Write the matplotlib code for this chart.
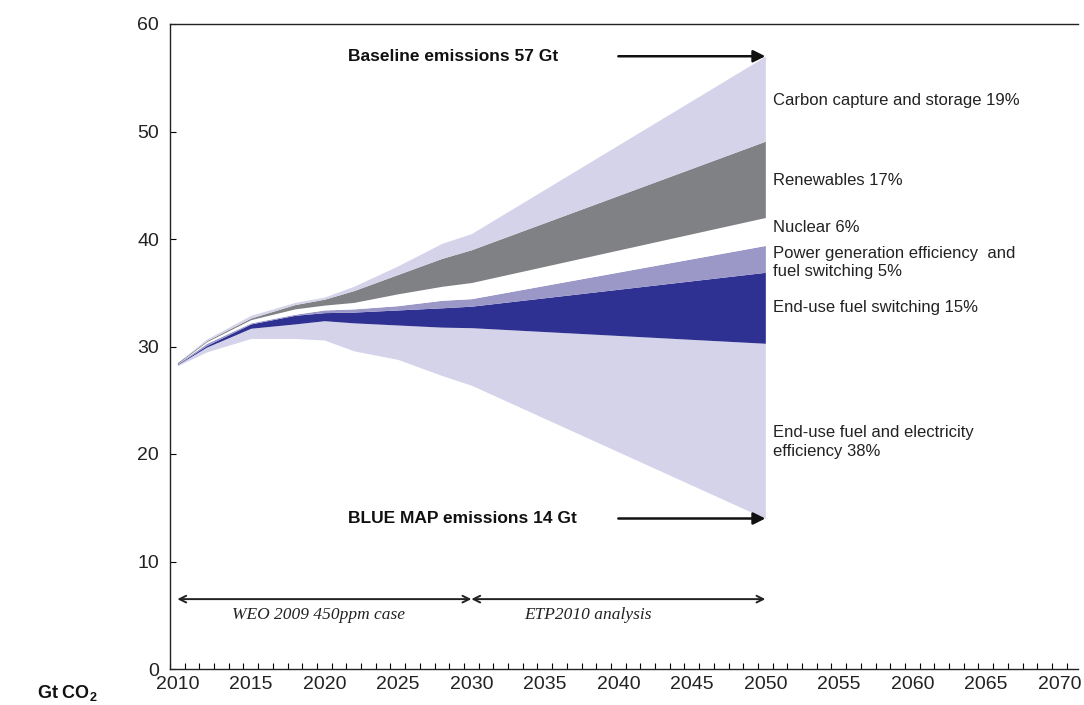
import numpy as np
import matplotlib
matplotlib.use("Agg")
import matplotlib.pyplot as plt
from matplotlib.ticker import FixedLocator

plt.rcParams["font.family"] = ["Liberation Sans", "DejaVu Sans"]
plt.rcParams["mathtext.fontset"] = "custom"
plt.rcParams["mathtext.rm"] = "Liberation Sans"
plt.rcParams["mathtext.bf"] = "Liberation Sans:bold"

# ── data (Gt CO2), boundaries of the stacked wedges, bottom to top ─────────
years = [2010, 2012, 2015, 2018, 2020, 2022, 2025, 2028, 2030, 2050]
blue_map = [28.2, 29.5, 30.75, 30.75, 30.6, 29.6, 28.8, 27.3, 26.4, 14.0]
enduse_switch_bot = [28.3, 29.95, 31.7, 32.1, 32.4, 32.2, 32.0, 31.8, 31.75, 30.3]
enduse_switch_top = [28.35, 30.1, 32.1, 32.9, 33.15, 33.2, 33.4, 33.6, 33.75, 36.9]
power_top = [28.4, 30.3, 32.2, 33.0, 33.4, 33.5, 33.8, 34.3, 34.45, 39.4]
nuclear_top = [28.4, 30.45, 32.5, 33.5, 33.85, 34.1, 34.9, 35.6, 35.95, 42.0]
renew_top = [28.5, 30.55, 32.65, 33.9, 34.4, 35.2, 36.7, 38.2, 39.0, 49.1]
baseline = [28.5, 30.7, 32.9, 34.1, 34.6, 35.6, 37.5, 39.6, 40.5, 57.0]

bands = [
    (blue_map, enduse_switch_bot, "#d4d3ea"),
    (enduse_switch_bot, enduse_switch_top, "#2e3192"),
    (enduse_switch_top, power_top, "#9b98c8"),
    (power_top, nuclear_top, "white"),
    (nuclear_top, renew_top, "#808185"),
    (renew_top, baseline, "#d4d3ea"),
]

labels = [
    (52.9, "Carbon capture and storage 19%"),
    (45.4, "Renewables 17%"),
    (41.1, "Nuclear 6%"),
    (37.8, "Power generation efficiency  and\nfuel switching 5%"),
    (33.6, "End-use fuel switching 15%"),
    (21.1, "End-use fuel and electricity\nefficiency 38%"),
]

fig = plt.figure(figsize=(10.84, 7.05), dpi=100)
ax = fig.add_axes([170 / 1084, 36 / 705, 908 / 1084, 645 / 705])

for lo, hi, col in bands:
    ax.fill_between(years, lo, hi, color=col, linewidth=0)

ax.set_xlim(2009.5, 2071.27)
ax.set_ylim(0, 60)

ax.set_xticks(np.arange(2010, 2071, 5))
ax.xaxis.set_minor_locator(FixedLocator(np.arange(2009.5, 2072, 1)))
ax.tick_params(axis="x", which="major", length=0, pad=5, labelsize=14)
ax.tick_params(axis="x", which="minor", direction="in", length=4, width=0.8)
ax.set_yticks(np.arange(0, 61, 10))
ax.tick_params(axis="y", direction="in", length=4, width=0.8, pad=8, labelsize=14)
for lab in ax.get_xticklabels() + ax.get_yticklabels():
    lab.set_color("#222222")

ax.spines["right"].set_visible(False)
for s in ("left", "bottom", "top"):
    ax.spines[s].set_linewidth(1.0)
    ax.spines[s].set_color("#222222")

# right-hand wedge labels
for y, txt in labels:
    ax.text(2050.5, y, txt, fontsize=12, va="center", ha="left",
            color="#222222", linespacing=1.3)

# baseline / BLUE MAP arrows
arrow_kw = dict(arrowstyle="-|>", color="#111111", lw=1.8, mutation_scale=18,
                shrinkA=0, shrinkB=0)
ax.annotate("", xy=(2050, 57.0), xytext=(2040, 57.0), arrowprops=arrow_kw)
ax.annotate("", xy=(2050, 14.0), xytext=(2040, 14.0), arrowprops=arrow_kw)
ax.text(2021.6, 57.0, "Baseline emissions 57 Gt", fontsize=12.5,
        fontweight="bold", va="center", ha="left", color="#111111")
ax.text(2021.6, 14.0, "BLUE MAP emissions 14 Gt", fontsize=12.5,
        fontweight="bold", va="center", ha="left", color="#111111")

# period arrows at the bottom
span_kw = dict(arrowstyle="<->", color="#222222", lw=1.4, mutation_scale=12,
               shrinkA=0, shrinkB=0)
ax.annotate("", xy=(2030, 6.5), xytext=(2010, 6.5), arrowprops=span_kw)
ax.annotate("", xy=(2050, 6.5), xytext=(2030, 6.5), arrowprops=span_kw)
ax.text(2019.6, 5.0, "WEO 2009 450ppm case", fontsize=12.5, style="italic",
        family="Liberation Serif", ha="center", va="center", color="#222222")
ax.text(2037.9, 5.0, "ETP2010 analysis", fontsize=12.5, style="italic",
        family="Liberation Serif", ha="center", va="center", color="#222222")

fig.text(98 / 1084, 12 / 705, r"Gt CO$_\mathbf{2}$", fontsize=13,
         fontweight="bold", ha="right", va="center", color="#111111")

fig.savefig("out.png", dpi=100)
